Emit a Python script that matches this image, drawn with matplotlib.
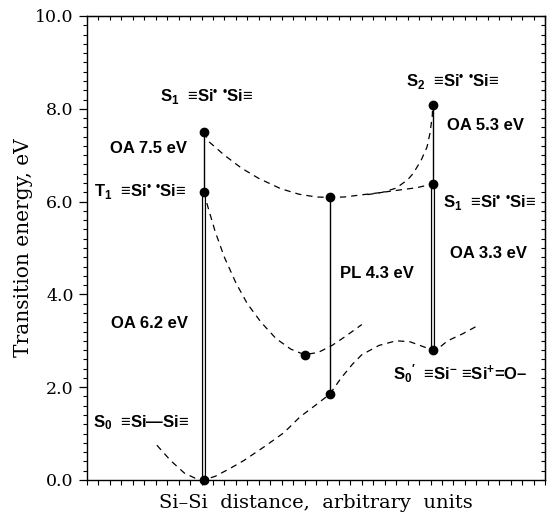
import matplotlib
matplotlib.use("Agg")
import matplotlib.pyplot as plt
from matplotlib.ticker import MultipleLocator, NullFormatter, FormatStrFormatter

plt.rcParams['font.family'] = ['Liberation Sans', 'DejaVu Sans']
plt.rcParams['mathtext.fontset'] = 'custom'
plt.rcParams['mathtext.rm'] = 'Liberation Sans:bold'
plt.rcParams['mathtext.it'] = 'Liberation Sans:bold'
plt.rcParams['mathtext.bf'] = 'Liberation Sans:bold'
plt.rcParams['mathtext.default'] = 'rm'

# ---- data (x: arbitrary Si-Si distance units, y: energy eV) ----
x_left, x_mid, x_right = 10.2, 21.2, 30.2
left_levels = [0.0, 6.2, 7.5]
mid_levels = [1.85, 6.1]
right_levels = [2.8, 6.38, 8.08]
t1_min = (19.0, 2.7)

s0_x = [6.1, 7.3, 8.5, 9.6, 10.2, 11.2, 12.5, 13.7, 15.5, 17.2, 18.6, 20.0, 21.2,
        22.2, 23.2, 24.0, 25.5, 27.0, 28.2, 29.3, 30.2, 30.9, 31.5, 32.8, 34.3]
s0_y = [0.75, 0.42, 0.15, 0.02, 0.0, 0.08, 0.25, 0.42, 0.72, 1.02, 1.36, 1.62, 1.85,
        2.2, 2.5, 2.7, 2.9, 3.0, 2.98, 2.88, 2.8, 2.88, 3.0, 3.15, 3.35]

t1_x = [10.2, 10.6, 11.2, 12.0, 13.0, 14.0, 15.2, 16.5, 17.8, 19.0, 20.2, 21.4, 22.6, 24.0]
t1_y = [6.2, 5.85, 5.35, 4.8, 4.25, 3.8, 3.4, 3.05, 2.82, 2.7, 2.75, 2.9, 3.1, 3.35]

s1_x = [10.2, 10.7, 12.0, 13.5, 15.0, 16.9, 18.5, 20.0, 21.2, 22.5, 23.8, 25.5, 27.3, 28.8, 30.2]
s1_y = [7.5, 7.28, 7.0, 6.72, 6.5, 6.28, 6.16, 6.1, 6.09, 6.1, 6.14, 6.19, 6.25, 6.3, 6.38]

s2_x = [24.5, 25.8, 27.0, 28.0, 28.5, 29.2, 29.7, 29.95, 30.15, 30.2]
s2_y = [6.15, 6.2, 6.29, 6.47, 6.61, 6.9, 7.18, 7.47, 7.83, 8.08]

labels = [
    (6.4, 8.25, r'S$_1$  ≡Si$^{•}$ $^{•}$Si≡'),
    (2.0, 7.15, 'OA 7.5 eV'),
    (0.6, 6.2, r'T$_1$  ≡Si$^{•}$ $^{•}$Si≡'),
    (2.1, 3.38, 'OA 6.2 eV'),
    (0.5, 1.23, r'S$_0$  ≡Si—Si≡'),
    (22.1, 4.46, 'PL 4.3 eV'),
    (27.9, 8.58, r'S$_2$  ≡Si$^{•}$ $^{•}$Si≡'),
    (31.4, 7.65, 'OA 5.3 eV'),
    (31.1, 5.97, r'S$_1$  ≡Si$^{•}$ $^{•}$Si≡'),
    (31.7, 4.89, 'OA 3.3 eV'),
    (26.7, 2.3, r'S$_0$$^{\prime}$  ≡Si$^{-}$ ≡Si$^{+}$=O–'),
]

fig = plt.figure(figsize=(5.47, 5.14), dpi=100)
ax = fig.add_axes([87/547, 34/514, 458/547, 464/514])
ax.set_xlim(0, 40)
ax.set_ylim(0, 10)

dash = (0, (5, 4))
for xs, ys in [(s0_x, s0_y), (t1_x, t1_y), (s1_x, s1_y), (s2_x, s2_y)]:
    ax.plot(xs, ys, color='black', lw=0.9, ls=dash)

def double(x, y0, y1):
    ax.plot([x, x], [y0, y1], color='black', lw=3.0, solid_capstyle='butt')
    ax.plot([x, x], [y0, y1], color='white', lw=1.2, solid_capstyle='butt')

double(x_left, left_levels[0], left_levels[1])
ax.plot([x_left, x_left], [left_levels[1], left_levels[2]], color='black', lw=1.0)
ax.plot([x_mid, x_mid], mid_levels, color='black', lw=1.0)
double(x_right, right_levels[0], right_levels[1])
ax.plot([x_right, x_right], [right_levels[1], right_levels[2]], color='black', lw=1.0)

ax.plot([x_left] * 3, left_levels, 'o', color='black', ms=6, clip_on=False)
ax.plot([x_mid] * 2, mid_levels, 'o', color='black', ms=6)
ax.plot([x_right] * 3, right_levels, 'o', color='black', ms=6)
ax.plot([t1_min[0]], [t1_min[1]], 'o', color='black', ms=6)

for x, y, s in labels:
    ax.text(x, y, s, ha='left', va='center', fontsize=12, fontweight='bold', color='black')

# axes styling
for sp in ax.spines.values():
    sp.set_linewidth(1.0)
ax.xaxis.set_major_locator(MultipleLocator(1))
ax.xaxis.set_major_formatter(NullFormatter())
ax.yaxis.set_major_locator(MultipleLocator(2))
ax.yaxis.set_minor_locator(MultipleLocator(0.2))
ax.yaxis.set_major_formatter(FormatStrFormatter('%.1f'))
ax.tick_params(axis='x', which='both', direction='out', length=3.5, width=0.8)
ax.tick_params(axis='y', which='major', direction='out', length=6, width=0.9, labelsize=12.5)
ax.tick_params(axis='y', which='minor', direction='out', length=3, width=0.8)
for lab in ax.get_yticklabels():
    lab.set_family('DejaVu Serif')

# inward ticks on the top and right sides
sec_r = ax.secondary_yaxis('right')
sec_r.yaxis.set_major_locator(MultipleLocator(0.2))
sec_r.yaxis.set_major_formatter(NullFormatter())
sec_r.tick_params(direction='in', length=3, width=0.8)
sec_t = ax.secondary_xaxis('top')
sec_t.xaxis.set_major_locator(MultipleLocator(1))
sec_t.xaxis.set_major_formatter(NullFormatter())
sec_t.tick_params(direction='in', length=3, width=0.8)

ax.set_ylabel('Transition energy, eV', family='DejaVu Serif', fontsize=14.5, labelpad=2)
ax.set_xlabel('Si–Si  distance,  arbitrary  units', family='DejaVu Serif', fontsize=14,
              labelpad=3)

fig.savefig('out.png', dpi=100)
